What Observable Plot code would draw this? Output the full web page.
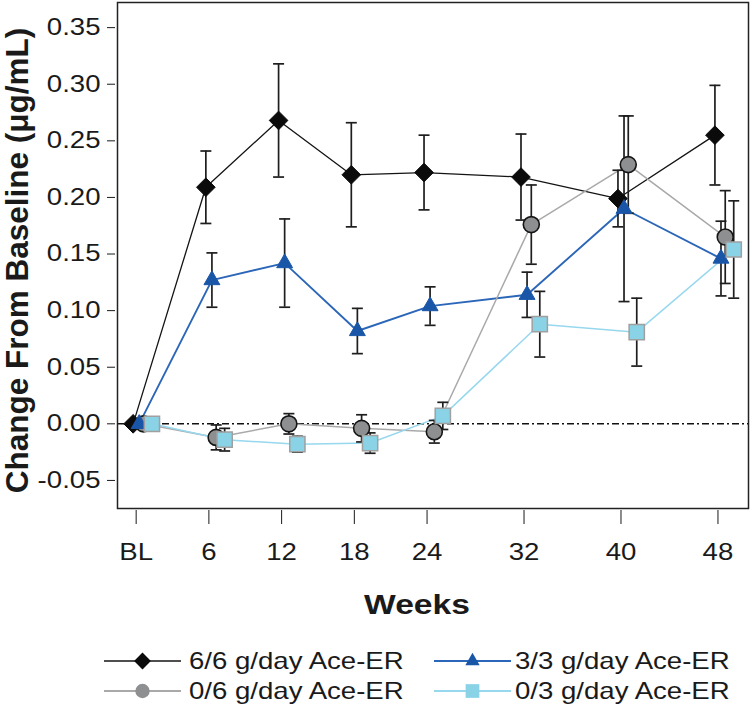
<!DOCTYPE html>
<html><head><meta charset="utf-8">
<script src="https://cdn.jsdelivr.net/npm/d3@7"></script>
<script src="https://cdn.jsdelivr.net/npm/@observablehq/plot@0.6"></script>
<style>
body{margin:0;background:#fff;font-family:"Liberation Sans",Arial,sans-serif}
#chart{width:751px;height:708px;position:relative;overflow:hidden}
svg{display:block}
</style>
</head><body><div id="chart"></div>
<script>
// ---- data ----
const weeks = [0, 6, 12, 18, 24, 32, 40, 48];
const weekLabels = ["BL", "6", "12", "18", "24", "32", "40", "48"];
const seriesNames = ["6/6 g/day Ace-ER", "3/3 g/day Ace-ER", "0/6 g/day Ace-ER", "0/3 g/day Ace-ER"];
const mean66 = [0, 0.209, 0.268, 0.220, 0.222, 0.218, 0.199, 0.255];
const se66   = [0, 0.032, 0.050, 0.046, 0.033, 0.038, 0.025, 0.044];
const mean33 = [0, 0.127, 0.142, 0.082, 0.104, 0.114, 0.190, 0.146];
const se33   = [0, 0.024, 0.039, 0.020, 0.017, 0.020, 0.082, 0.033];
const mean06 = [0, -0.012, 0.000, -0.004, -0.007, 0.176, 0.229, 0.165];
const se06   = [0, 0.011, 0.009, 0.012, 0.010, 0.035, 0.043, 0.041];
const mean03 = [0, -0.014, -0.018, -0.017, 0.007, 0.088, 0.081, 0.154];
const se03   = [0, 0.010, 0.007, 0.009, 0.012, 0.029, 0.030, 0.043];
const yTicks = [-0.05, 0, 0.05, 0.10, 0.15, 0.20, 0.25, 0.30, 0.35];
const xTitle = "Weeks";
const yTitle = "Change From Baseline (μg/mL)";

// ---- styles ----
const style = {
  [seriesNames[0]]: {dodge: -0.25, line: "#141414", lw: 1.3, symbol: "diamond2", r: 8.4, fill: "#0b0b0b", stroke: "#0b0b0b", sw: 1, legendLw: 1.3},
  [seriesNames[1]]: {dodge: 0.25, line: "#2b66b8", lw: 1.9, symbol: "triangle2", r: 7.6, fill: "#1a56a8", stroke: "#1a56a8", sw: 1, legendLw: 2.2},
  [seriesNames[2]]: {dodge: 0.6, line: "#a9a9a9", lw: 1.5, symbol: "circle", r: 8, fill: "#8d8f91", stroke: "#151515", sw: 1.6, legendLw: 2.2},
  [seriesNames[3]]: {dodge: 1.3, line: "#97d8ee", lw: 1.5, symbol: "square", r: 8.6, fill: "#8ad3e6", stroke: "#a0a0a0", sw: 1.5, legendLw: 2.2}
};
const seriesData = [
  {name: seriesNames[0], mean: mean66, se: se66},
  {name: seriesNames[1], mean: mean33, se: se33},
  {name: seriesNames[2], mean: mean06, se: se06},
  {name: seriesNames[3], mean: mean03, se: se03}
];
const rows = seriesData.flatMap(s => weeks.map((w, i) => ({series: s.name, week: w, mean: s.mean[i], se: s.se[i]})));
const xpos = d => d.week + style[d.series].dodge;
const bars = rows.filter(d => d.se > 0);

const capSymbol = {draw(ctx, size) { const w = Math.sqrt(size / Math.PI); ctx.moveTo(-w, 0); ctx.lineTo(w, 0); }};

const lineOrder = [seriesNames[0], seriesNames[1], seriesNames[2], seriesNames[3]];
const dotOrder = [seriesNames[0], seriesNames[2], seriesNames[1], seriesNames[3]];

const W = 751, H = 635;
const plot = Plot.plot({
  width: W, height: H,
  marginLeft: 117, marginRight: 3, marginTop: 2, marginBottom: H - 508,
  style: {fontFamily: '"Liberation Sans", Arial, sans-serif', fontSize: "23px", color: "#1a1a1a", background: "white", overflow: "visible"},
  x: {type: "linear", domain: [-1.54, 50.52]},
  y: {domain: [-0.0748, 0.3722]},
  marks: [
    Plot.ruleY([0], {stroke: "#111", strokeWidth: 1.5, strokeDasharray: "7,3,2,3"}),
    ...lineOrder.map(n => Plot.line(rows.filter(d => d.series === n), {x: xpos, y: "mean", stroke: style[n].line, strokeWidth: style[n].lw})),
    Plot.ruleX(bars, {x: xpos, y1: d => d.mean - d.se, y2: d => d.mean + d.se, stroke: "#1e1e1e", strokeWidth: 1.7}),
    Plot.dot(bars, {x: xpos, y: d => d.mean + d.se, symbol: capSymbol, r: 5.5, stroke: "#1e1e1e", strokeWidth: 1.7, fill: "none"}),
    Plot.dot(bars, {x: xpos, y: d => d.mean - d.se, symbol: capSymbol, r: 5.5, stroke: "#1e1e1e", strokeWidth: 1.7, fill: "none"}),
    ...dotOrder.map(n => Plot.dot(rows.filter(d => d.series === n), {x: xpos, y: "mean", symbol: style[n].symbol, r: style[n].r, fill: style[n].fill, stroke: style[n].stroke, strokeWidth: style[n].sw})),
    Plot.frame({stroke: "#222", strokeWidth: 1.5}),
    Plot.axisY({ticks: yTicks, tickFormat: d => d.toFixed(2), tickSize: 8, tickPadding: 7, dx: -2, fontSize: 23, label: null}),
    Plot.axisX({ticks: weeks, tickFormat: d => weekLabels[weeks.indexOf(d)], tickSize: 14, tickPadding: 19, dy: 2, fontSize: 23, label: null}),
    Plot.text([xTitle], {text: d => d, frameAnchor: "bottom", dx: -16, dy: 97, lineAnchor: "middle", fontSize: 28, fontWeight: "bold"}),
    Plot.text([yTitle], {text: d => d, frameAnchor: "left", rotate: -90, dx: -100, dy: 5, lineAnchor: "middle", textAnchor: "middle", fontSize: 31.5, fontWeight: "bold"})
  ]
});
const chart = document.getElementById("chart");
chart.appendChild(plot);

// ---- legend ----
const LH = 708 - H;
const legend = d3.select(chart).append("svg").attr("width", W).attr("height", LH)
  .style("font-family", '"Liberation Sans", Arial, sans-serif');
const symMap = {diamond2: d3.symbolDiamond2, triangle2: d3.symbolTriangle2, circle: d3.symbolCircle, square: d3.symbolSquare};
const cols = [{x0: 104, x1: 181, tx: 189}, {x0: 434, x1: 511, tx: 515}];
const rowsY = [26, 56];
const legendOrder = [[seriesNames[0], 0, 0], [seriesNames[1], 1, 0], [seriesNames[2], 0, 1], [seriesNames[3], 1, 1]];
legendOrder.forEach(([n, c, r]) => {
  const s = style[n], col = cols[c], y = rowsY[r];
  const g = legend.append("g");
  g.append("line").attr("x1", col.x0).attr("x2", col.x1).attr("y1", y).attr("y2", y)
    .attr("stroke", s.line).attr("stroke-width", s.legendLw);
  g.append("path").attr("d", d3.symbol().type(symMap[s.symbol]).size(Math.PI * (s.r * 0.9) ** 2)())
    .attr("transform", `translate(${(col.x0 + col.x1) / 2},${y})`).attr("fill", s.fill);
  g.append("text").attr("transform", `translate(${col.tx},${y})`).attr("dy", "0.36em").attr("font-size", 23)
    .attr("fill", "#1a1a1a").text(n);
});

// horizontal text in the reference is widened ~1.2x: scale glyphs about each text's anchor
function stretch(root, k) {
  root.querySelectorAll("text").forEach(t => {
    const tr = t.getAttribute("transform") || "";
    if (tr.includes("rotate")) return;
    const x = +(t.getAttribute("x") || 0);
    t.setAttribute("transform", `${tr} translate(${x},0) scale(${k},1) translate(${-x},0)`);
  });
}
stretch(plot, 1.2);
stretch(legend.node(), 1.2);
</script>
</body></html>
